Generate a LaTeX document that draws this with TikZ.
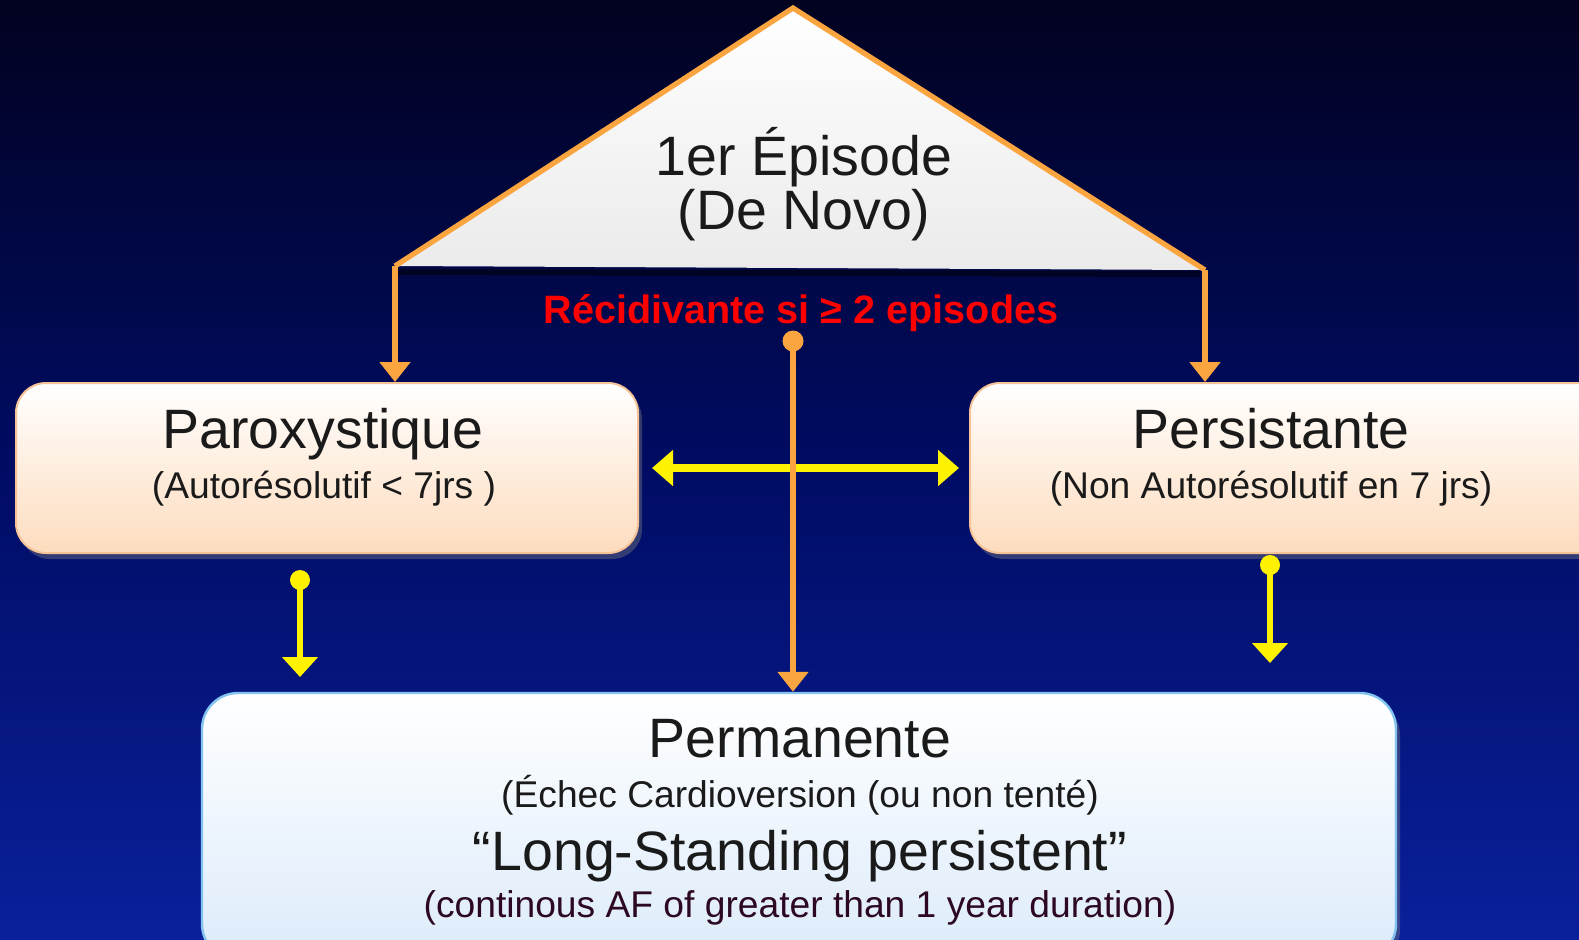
\documentclass[tikz,border=0pt]{standalone}
\usepackage{fontspec}
\setmainfont{Liberation Sans}
\usetikzlibrary{arrows.meta,shadows,calc}

\definecolor{bgtop}{RGB}{2,2,32}
\definecolor{bgmid}{RGB}{0,12,100}
\definecolor{bgbot}{RGB}{10,32,155}
\definecolor{ora}{RGB}{250,165,64}
\definecolor{peach}{RGB}{253,220,190}
\definecolor{peachline}{RGB}{245,195,150}
\definecolor{iceblue}{RGB}{220,235,250}
\definecolor{iceline}{RGB}{130,195,240}
\definecolor{ink}{RGB}{26,26,26}
\definecolor{wine}{RGB}{45,8,35}

\begin{document}
\begin{tikzpicture}[x=0.5pt,y=-0.5pt,
  titlefont/.style={font=\fontsize{27.75pt}{30pt}\selectfont, text=ink},
  subfont/.style={font=\fontsize{18.6pt}{20pt}\selectfont, text=ink},
  txt/.style={anchor=base, inner sep=0pt},
  warmbox/.style={draw=peachline, line width=1pt, rounded corners=15pt,
    top color=white, bottom color=peach,
    drop shadow={opacity=0.4, shadow xshift=2pt, shadow yshift=-3pt}},
  coolbox/.style={draw=iceline, line width=1.2pt, rounded corners=18pt,
    top color=white, bottom color=iceblue,
    drop shadow={opacity=0.4, shadow xshift=2pt, shadow yshift=-3pt}},
  oraline/.style={draw=ora, line width=2.6pt},
  orahead/.style={-{Triangle[width=15pt,length=10pt]}},
  yelline/.style={draw=yellow, line width=3pt},
  dot/.style={circle, inner sep=0pt, minimum size=10pt},
]
\useasboundingbox (0,0) rectangle (1579,939);
\clip (0,0) rectangle (1579,939);

% background
\shade[top color=bgtop, bottom color=bgbot, middle color=bgmid] (0,0) rectangle (1579,939);

% the first-episode triangle
\coordinate (apex) at (793,8);
\coordinate (bl) at (395,266);
\coordinate (br) at (1205,270);
\draw[black, opacity=0.5, line width=3pt] (398,272) -- (1200,274);
\shade[top color=white, bottom color=black!8] (bl) -- (apex) -- (br) -- cycle;
\draw[oraline, line join=miter] (bl) -- (apex) -- (br);
\node[txt, titlefont] (ep1) at (804,175) {1er Épisode};
\node[txt, titlefont] (ep2) at (804,229) {(De Novo)};

% boxes
\node[warmbox, minimum width=311pt, minimum height=85pt] (parox) at (327,468) {};
\node[warmbox, minimum width=320pt, minimum height=85pt] (persist) at (1290,468) {};
\node[coolbox, minimum width=597pt, minimum height=133.5pt] (perm) at (799,826.5) {};

% branches from the triangle to the two upper boxes
\draw[oraline, orahead] (bl) -- (bl |- parox.north);
\draw[oraline, orahead] (br) -- (br |- persist.north);

% yellow links
\coordinate (hl) at (652,468);
\coordinate (hr) at (959,468);
\draw[yelline, line width=4pt, {Triangle[width=17.5pt,length=10.5pt]}-{Triangle[width=17.5pt,length=10.5pt]}] (hl) -- (hr);

\node[dot, fill=yellow] (ydl) at (300,580) {};
\coordinate (yel) at (300,677);
\draw[yelline, -{Triangle[width=17.5pt,length=10pt]}] (ydl.center) -- (yel);

\node[dot, fill=yellow] (ydr) at (1270,565) {};
\coordinate (yer) at (1270,663);
\draw[yelline, -{Triangle[width=17.5pt,length=10pt]}] (ydr.center) -- (yer);

% recurrence marker and its path down to the permanent box
\node[dot, fill=ora, minimum size=10.5pt] (od) at (793,341) {};
\draw[oraline, line width=3.2pt, orahead] (od.center) -- (od |- perm.north);

\node[txt, font=\bfseries\fontsize{19.8pt}{22pt}\selectfont, text=red] (rec) at (801,323) {Récidivante si ≥ 2 episodes};

% box texts
\node[txt, titlefont] (paroxT) at (323,448) {Paroxystique};
\node[txt, subfont] (paroxS) at (324,498) {(Autorésolutif < 7jrs )};

\node[txt, titlefont] (persistT) at (1271,448) {Persistante};
\node[txt, subfont] (persistS) at (1271,498) {(Non Autorésolutif en 7 jrs)};

\node[txt, titlefont] (permT) at (800,757) {Permanente};
\node[txt, subfont] (permS) at (800,807) {(Échec Cardioversion (ou non tenté)};
\node[txt, titlefont] (permL) at (800,870) {“Long-Standing persistent”};
\node[txt, subfont, text=wine] (permD) at (800,917) {(continous AF of greater than 1 year duration)};
\end{tikzpicture}
\end{document}
